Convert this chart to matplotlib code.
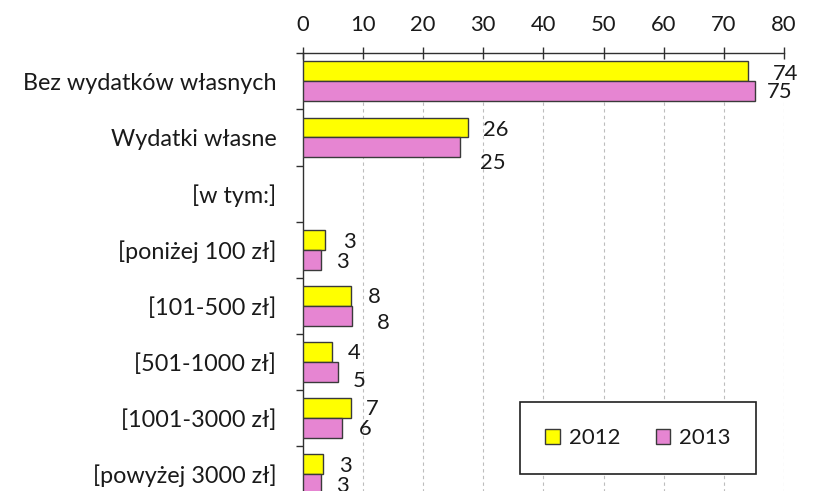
import numpy as np
import matplotlib
matplotlib.use("Agg")
import matplotlib.pyplot as plt
from matplotlib.patches import Patch
from matplotlib.ticker import FixedLocator

# ---------------- data ----------------
categories = ["Bez wydatków własnych", "Wydatki własne", "[w tym:]",
              "[poniżej 100 zł]", "[101-500 zł]", "[501-1000 zł]",
              "[1001-3000 zł]", "[powyżej 3000 zł]"]
values_2012 = [74.0, 27.4, np.nan, 3.7, 8.0, 4.8, 8.0, 3.4]
values_2013 = [75.2, 26.2, np.nan, 3.1, 8.2, 5.9, 6.5, 3.1]
labels_2012 = ["74", "26", "", "3", "8", "4", "7", "3"]
labels_2013 = ["75", "25", "", "3", "8", "5", "6", "3"]
series_names = ["2012", "2013"]
xticks = [0, 10, 20, 30, 40, 50, 60, 70, 80]

# ---------------- style / layout ----------------
FONT = "Lato"
FS = 16.8
FS_NUM = 15.8
C2012 = "#FFFF00"
C2013 = "#E685D2"
EDGE = "#3a3a3a"
TXT = "#1a1a1a"
plt.rcParams["font.family"] = [FONT, "DejaVu Sans"]
plt.rcParams["text.color"] = TXT

W, H = 827, 491
fig = plt.figure(figsize=(W / 100, H / 100), dpi=100)
ax_top = 53.3
cat_h = 56.1
ax_left, ax_right = 302.7, 784.0
n = len(categories)
ax = fig.add_axes([ax_left / W, 1 - (ax_top + n * cat_h) / H,
                   (ax_right - ax_left) / W, n * cat_h / H])

y = np.arange(n)
bh = 0.355
ax.barh(y - bh / 2, values_2012, height=bh, color=C2012, edgecolor=EDGE,
        linewidth=1.0, zorder=3)
ax.barh(y + bh / 2, values_2013, height=bh, color=C2013, edgecolor=EDGE,
        linewidth=1.0, zorder=3)

# label offsets in pixels (dx from bar end, dy downward)
off_2012 = [(25, 3), (15, 3), (0, 0), (18, 2), (17, 1), (16, 1), (15, 1), (16, 2)]
off_2013 = [(12, 1), (20, 16), (0, 0), (15, 2), (25, 7), (15, 9), (17, 1), (15, 2)]
px2pt = 72 / 100
for vals, labs, offs, sign in [(values_2012, labels_2012, off_2012, -1),
                               (values_2013, labels_2013, off_2013, 1)]:
    for i, (v, lab, (dx, dy)) in enumerate(zip(vals, labs, offs)):
        if not lab:
            continue
        ax.annotate(lab, xy=(v, i + sign * bh / 2), xytext=(dx * px2pt, -dy * px2pt),
                    textcoords="offset points", ha="left", va="center",
                    fontsize=FS_NUM, color=TXT, annotation_clip=False, zorder=4)

ax.set_xlim(0, 80)
ax.set_ylim(n - 0.5, -0.5)
ax.xaxis.tick_top()
ax.set_xticks(xticks)
ax.set_xticklabels([str(t) for t in xticks], fontsize=FS_NUM)
ax.tick_params(axis="x", direction="inout", length=9, width=1.0, color="#303030",
               pad=9, labelcolor=TXT)
ax.set_yticks(y)
ax.set_yticklabels(categories, fontsize=FS)
ax.tick_params(axis="y", which="major", length=0, pad=19, labelcolor=TXT)
ax.yaxis.set_minor_locator(FixedLocator(np.arange(-0.5, n, 1.0)))
ax.tick_params(axis="y", which="minor", direction="out", length=5, width=1.0,
               color="#303030")

for s in ["right", "bottom"]:
    ax.spines[s].set_visible(False)
for s in ["top", "left"]:
    ax.spines[s].set_color("#303030")
    ax.spines[s].set_linewidth(1.0)

for xv in xticks[1:]:
    ax.axvline(xv, color="#BDBDBD", linestyle=(0, (3, 3)), linewidth=0.8, zorder=1)

handles = [Patch(facecolor=C2012, edgecolor=EDGE, linewidth=1.0),
           Patch(facecolor=C2013, edgecolor=EDGE, linewidth=1.0)]
leg = fig.legend(handles, series_names, loc="center",
                 bbox_to_anchor=(638 / W, 1 - 438 / H), ncol=2, fontsize=16,
                 frameon=True, fancybox=False, shadow=False, framealpha=1,
                 edgecolor="#202020", borderpad=1.15, handlelength=0.65,
                 handleheight=0.65, handletextpad=0.4, columnspacing=1.6,
                 borderaxespad=0)
leg.get_frame().set_linewidth(1.2)

fig.savefig("out.png", dpi=100)
